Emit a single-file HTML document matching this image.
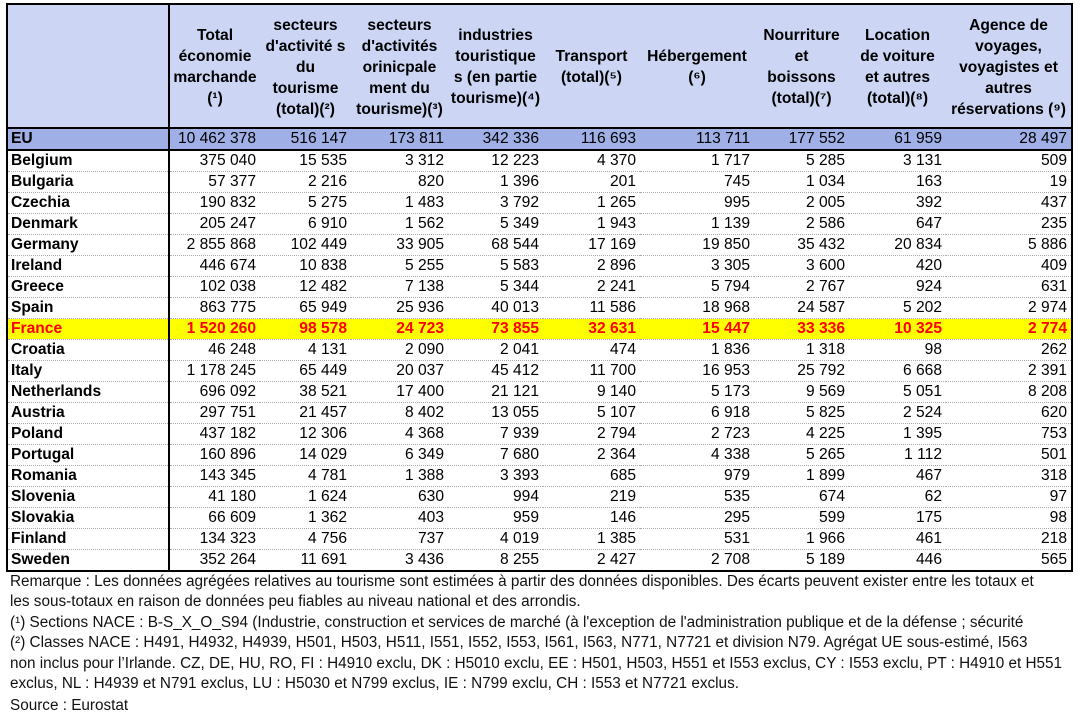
<!DOCTYPE html>
<html><head><meta charset="utf-8"><style>
body{margin:0;width:1086px;height:714px;background:#fff;font-family:"Liberation Sans",Arial,sans-serif;color:#000;position:relative;overflow:hidden}
table{position:absolute;left:6px;top:3px;border-collapse:collapse;table-layout:fixed;font-size:15.6px;border:2px solid #000}
td{padding:0 4px 0 3px;height:20px;line-height:20px;white-space:nowrap;text-align:right;border-top:1px dotted #aaa;overflow:hidden}
td:first-child{text-align:left;font-weight:bold;border-right:2px solid #000}
tr.h td{background:#ccd6f4;font-weight:bold;text-align:center;white-space:nowrap;height:120px;line-height:21px;vertical-align:middle;border-top:none;padding:2px 1px 0 1px}
tr.eu td{background:#a0b0e6;border-top:2px solid #000;border-bottom:2px solid #000}
tr.fr td{background:#ffff00;color:#ff0000;font-weight:bold}
tr.eu+tr td{border-top:none}
.n{position:absolute;left:10px;font-size:15.3px;line-height:20px;white-space:nowrap;color:#111}
</style></head><body>
<table>
<colgroup><col style="width:162px"><col style="width:91px"><col style="width:91px"><col style="width:97px"><col style="width:95px"><col style="width:97px"><col style="width:114px"><col style="width:95px"><col style="width:97px"><col style="width:126px"></colgroup>
<tr class="h"><td></td><td>Total<br>économie<br>marchande<br>(¹)</td><td>secteurs<br>d'activité s<br>du<br>tourisme<br>(total)(²)</td><td>secteurs<br>d'activités<br>orinicpale<br>ment du<br>tourisme)(³)</td><td>industries<br>touristique<br>s (en partie<br>tourisme)(⁴)</td><td>Transport<br>(total)(⁵)</td><td>Hébergement<br>(⁶)</td><td>Nourriture<br>et<br>boissons<br>(total)(⁷)</td><td>Location<br>de voiture<br>et autres<br>(total)(⁸)</td><td>Agence de<br>voyages,<br>voyagistes et<br>autres<br>réservations (⁹)</td></tr>
<tr class="eu"><td>EU</td><td>10 462 378</td><td>516 147</td><td>173 811</td><td>342 336</td><td>116 693</td><td>113 711</td><td>177 552</td><td>61 959</td><td>28 497</td></tr>
<tr><td>Belgium</td><td>375 040</td><td>15 535</td><td>3 312</td><td>12 223</td><td>4 370</td><td>1 717</td><td>5 285</td><td>3 131</td><td>509</td></tr>
<tr><td>Bulgaria</td><td>57 377</td><td>2 216</td><td>820</td><td>1 396</td><td>201</td><td>745</td><td>1 034</td><td>163</td><td>19</td></tr>
<tr><td>Czechia</td><td>190 832</td><td>5 275</td><td>1 483</td><td>3 792</td><td>1 265</td><td>995</td><td>2 005</td><td>392</td><td>437</td></tr>
<tr><td>Denmark</td><td>205 247</td><td>6 910</td><td>1 562</td><td>5 349</td><td>1 943</td><td>1 139</td><td>2 586</td><td>647</td><td>235</td></tr>
<tr><td>Germany</td><td>2 855 868</td><td>102 449</td><td>33 905</td><td>68 544</td><td>17 169</td><td>19 850</td><td>35 432</td><td>20 834</td><td>5 886</td></tr>
<tr><td>Ireland</td><td>446 674</td><td>10 838</td><td>5 255</td><td>5 583</td><td>2 896</td><td>3 305</td><td>3 600</td><td>420</td><td>409</td></tr>
<tr><td>Greece</td><td>102 038</td><td>12 482</td><td>7 138</td><td>5 344</td><td>2 241</td><td>5 794</td><td>2 767</td><td>924</td><td>631</td></tr>
<tr><td>Spain</td><td>863 775</td><td>65 949</td><td>25 936</td><td>40 013</td><td>11 586</td><td>18 968</td><td>24 587</td><td>5 202</td><td>2 974</td></tr>
<tr class="fr"><td>France</td><td>1 520 260</td><td>98 578</td><td>24 723</td><td>73 855</td><td>32 631</td><td>15 447</td><td>33 336</td><td>10 325</td><td>2 774</td></tr>
<tr><td>Croatia</td><td>46 248</td><td>4 131</td><td>2 090</td><td>2 041</td><td>474</td><td>1 836</td><td>1 318</td><td>98</td><td>262</td></tr>
<tr><td>Italy</td><td>1 178 245</td><td>65 449</td><td>20 037</td><td>45 412</td><td>11 700</td><td>16 953</td><td>25 792</td><td>6 668</td><td>2 391</td></tr>
<tr><td>Netherlands</td><td>696 092</td><td>38 521</td><td>17 400</td><td>21 121</td><td>9 140</td><td>5 173</td><td>9 569</td><td>5 051</td><td>8 208</td></tr>
<tr><td>Austria</td><td>297 751</td><td>21 457</td><td>8 402</td><td>13 055</td><td>5 107</td><td>6 918</td><td>5 825</td><td>2 524</td><td>620</td></tr>
<tr><td>Poland</td><td>437 182</td><td>12 306</td><td>4 368</td><td>7 939</td><td>2 794</td><td>2 723</td><td>4 225</td><td>1 395</td><td>753</td></tr>
<tr><td>Portugal</td><td>160 896</td><td>14 029</td><td>6 349</td><td>7 680</td><td>2 364</td><td>4 338</td><td>5 265</td><td>1 112</td><td>501</td></tr>
<tr><td>Romania</td><td>143 345</td><td>4 781</td><td>1 388</td><td>3 393</td><td>685</td><td>979</td><td>1 899</td><td>467</td><td>318</td></tr>
<tr><td>Slovenia</td><td>41 180</td><td>1 624</td><td>630</td><td>994</td><td>219</td><td>535</td><td>674</td><td>62</td><td>97</td></tr>
<tr><td>Slovakia</td><td>66 609</td><td>1 362</td><td>403</td><td>959</td><td>146</td><td>295</td><td>599</td><td>175</td><td>98</td></tr>
<tr><td>Finland</td><td>134 323</td><td>4 756</td><td>737</td><td>4 019</td><td>1 385</td><td>531</td><td>1 966</td><td>461</td><td>218</td></tr>
<tr><td>Sweden</td><td>352 264</td><td>11 691</td><td>3 436</td><td>8 255</td><td>2 427</td><td>2 708</td><td>5 189</td><td>446</td><td>565</td></tr>
</table>
<div class="n" style="top:572px">Remarque : Les données agrégées relatives au tourisme sont estimées à partir des données disponibles. Des écarts peuvent exister entre les totaux et</div>
<div class="n" style="top:592px">les sous-totaux en raison de données peu fiables au niveau national et des arrondis.</div>
<div class="n" style="top:613px">(¹) Sections NACE : B-S_X_O_S94 (Industrie, construction et services de marché (à l'exception de l'administration publique et de la défense ; sécurité</div>
<div class="n" style="top:633px">(²) Classes NACE : H491, H4932, H4939, H501, H503, H511, I551, I552, I553, I561, I563, N771, N7721 et division N79. Agrégat UE sous-estimé, I563</div>
<div class="n" style="top:654px">non inclus pour l’Irlande. CZ, DE, HU, RO, FI : H4910 exclu, DK : H5010 exclu, EE : H501, H503, H551 et I553 exclus, CY : I553 exclu, PT : H4910 et H551</div>
<div class="n" style="top:674px">exclus, NL : H4939 et N791 exclus, LU : H5030 et N799 exclus, IE : N799 exclu, CH : I553 et N7721 exclus.</div>
<div class="n" style="top:696px">Source : Eurostat</div>
</body></html>
